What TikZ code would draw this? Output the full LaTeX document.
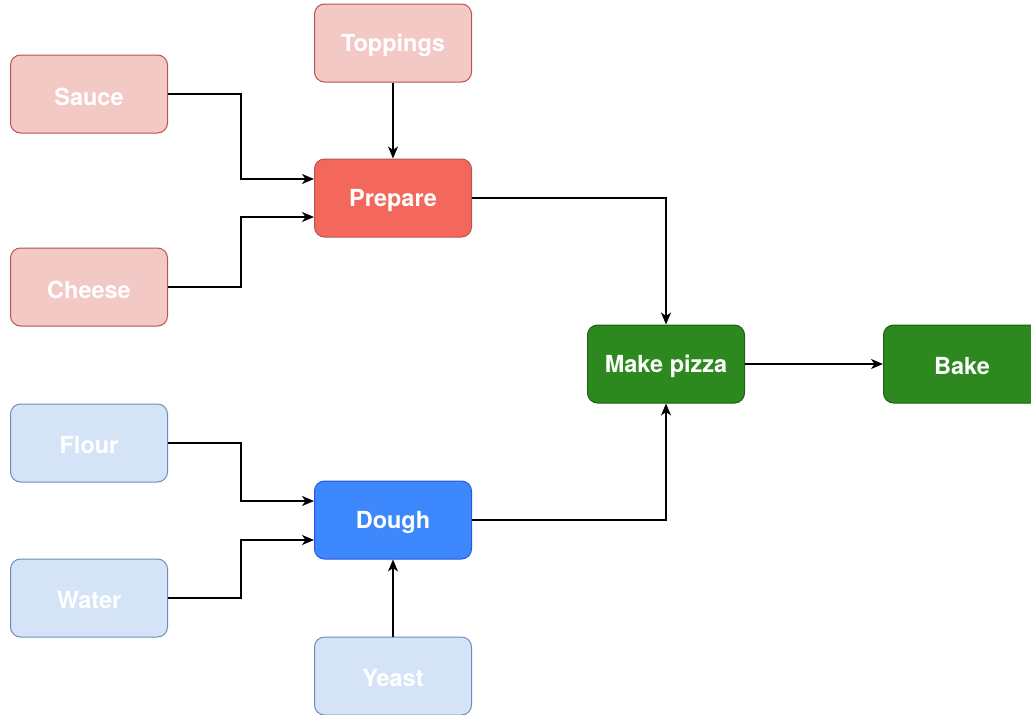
\documentclass[tikz,border=0pt]{standalone}
\usepackage{fontspec}
\setmainfont{TeX Gyre Heros}
\usetikzlibrary{arrows.meta}
\definecolor{palered}{HTML}{F3C9C5}
\definecolor{redline}{HTML}{B85450}
\definecolor{redfill}{HTML}{F4685C}
\definecolor{paleblue}{HTML}{D5E3F6}
\definecolor{blueline}{HTML}{6C8EBF}
\definecolor{bluefill}{HTML}{3D88FC}
\definecolor{bluedark}{HTML}{2B55E0}
\definecolor{greenfill}{HTML}{2C881F}
\definecolor{greenline}{HTML}{1F5E14}
\tikzset{
  box/.style={rectangle, rounded corners=10pt, minimum width=157pt, minimum height=78pt,
    line width=1pt, text=white, font=\fontsize{23.5}{23.5}\selectfont\bfseries},
  label/.style={text=white, font=\fontsize{23.5}{23.5}\selectfont\bfseries, yshift=-2.5pt},
  ingred/.style={box, fill=palered, draw=redline},
  stage/.style={box, fill=redfill, draw=redline},
  base/.style={box, fill=paleblue, draw=blueline},
  dough/.style={box, fill=bluefill, draw=bluedark},
  final/.style={box, fill=greenfill, draw=greenline},
  flow/.style={draw=black, line width=1.2pt, -{Stealth[length=12pt,width=10pt,inset=3.5pt]}}
}
\newcommand{\stepbox}[4]{%
  \node[#1] (#2) at (#3) {};
  \node[label] at (#2) {#4};}
\begin{document}
\begin{tikzpicture}[x=1pt,y=-1pt]
\useasboundingbox (0,0) rectangle (1031,715);
% sauce ingredients
\stepbox{ingred}{sauce}{89,94}{Sauce}
\stepbox{ingred}{toppings}{393,43}{Toppings}
\stepbox{ingred}{cheese}{89,287}{Cheese}
\stepbox{stage}{prepare}{393,198}{Prepare}
% dough ingredients
\stepbox{base}{flour}{89,443}{Flour}
\stepbox{base}{water}{89,598}{Water}
\stepbox{base}{yeast}{393,676}{Yeast}
\stepbox{dough}{doughn}{393,520}{Dough}
% final steps
\stepbox{final}{make}{666,364}{Make pizza}
\stepbox{final}{bake}{962,364}{Bake}
% connectors
\draw[flow] (sauce.east) -- ++(73,0) |- ([yshift=19pt]prepare.west);
\draw[flow] (cheese.east) -- ++(73,0) |- ([yshift=-19pt]prepare.west);
\draw[flow] (toppings) -- (prepare);
\draw[flow] (flour.east) -- ++(73,0) |- ([yshift=19pt]doughn.west);
\draw[flow] (water.east) -- ++(73,0) |- ([yshift=-20pt]doughn.west);
\draw[flow] (yeast) -- (doughn);
\draw[flow] (prepare.east) -| (make.north);
\draw[flow] (doughn.east) -| (make.south);
\draw[flow] (make) -- (bake);
\end{tikzpicture}
\end{document}
